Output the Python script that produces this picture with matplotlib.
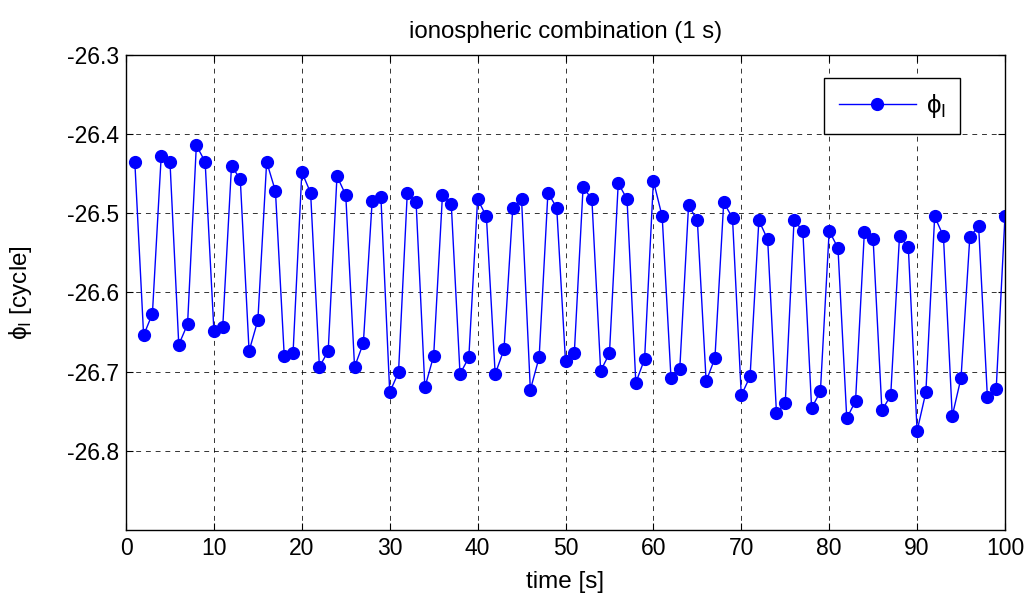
import matplotlib
matplotlib.use("Agg")
import matplotlib.pyplot as plt

time_s = list(range(1, 101))
phi_I = [
    -26.435, -26.654, -26.627, -26.428, -26.435, -26.666, -26.640, -26.414, -26.435, -26.649,
    -26.644, -26.440, -26.457, -26.674, -26.635, -26.435, -26.472, -26.680, -26.677, -26.448,
    -26.474, -26.694, -26.674, -26.453, -26.477, -26.694, -26.664, -26.485, -26.480, -26.726,
    -26.701, -26.474, -26.486, -26.720, -26.680, -26.477, -26.488, -26.703, -26.682, -26.482,
    -26.504, -26.703, -26.672, -26.493, -26.482, -26.723, -26.682, -26.474, -26.493, -26.687,
    -26.677, -26.467, -26.482, -26.699, -26.677, -26.462, -26.482, -26.714, -26.684, -26.459,
    -26.504, -26.708, -26.697, -26.490, -26.509, -26.712, -26.683, -26.486, -26.506, -26.730,
    -26.706, -26.509, -26.533, -26.752, -26.740, -26.509, -26.522, -26.746, -26.725, -26.522,
    -26.544, -26.759, -26.737, -26.524, -26.533, -26.749, -26.730, -26.529, -26.542, -26.775,
    -26.726, -26.504, -26.529, -26.756, -26.708, -26.530, -26.516, -26.732, -26.722, -26.504,
]
xticks = [0, 10, 20, 30, 40, 50, 60, 70, 80, 90, 100]
yticks = [-26.8, -26.7, -26.6, -26.5, -26.4, -26.3]

plt.rcParams['font.family'] = ['Liberation Sans', 'DejaVu Sans']
plt.rcParams['mathtext.fontset'] = 'custom'
plt.rcParams['mathtext.rm'] = 'Liberation Sans'

fig = plt.figure(figsize=(10.28, 5.99), dpi=100)
ax = fig.add_axes([0.1226, 0.1152, 0.9776 - 0.1226, 0.9082 - 0.1152])

ax.plot(time_s, phi_I, color='#0000ff', lw=1.0, marker='o', markersize=8.5,
        markeredgecolor='#0000ff', label='\u03d5$_{\\mathrm{I}}$')

ax.set_xlim(0, 100)
ax.set_ylim(-26.9, -26.3)
ax.set_xticks(xticks)
ax.set_yticks(yticks)
ax.set_yticklabels([f"{v:.1f}" for v in yticks])
ax.grid(True, color='black', linestyle=(0, (5, 5)), linewidth=0.7, alpha=0.8)
ax.tick_params(direction='in', top=True, right=True, labelsize=16.5, length=5, pad=5)
for s in ax.spines.values():
    s.set_linewidth(1.0)

ax.set_title('ionospheric combination (1 s)', fontsize=17.3, pad=12)
ax.set_xlabel('time [s]', fontsize=17.5, labelpad=8)
ax.set_ylabel('\u03d5$_{\\mathrm{I}}$ [cycle]', fontsize=17.5, labelpad=24)

leg = ax.legend(loc='upper right', bbox_to_anchor=(0.9488, 0.9516), borderaxespad=0,
                fontsize=18.5, fancybox=False, framealpha=1, edgecolor='black',
                handlelength=3.0, borderpad=0.55, handletextpad=0.4)
leg.get_frame().set_linewidth(1.0)

fig.savefig('out.png', dpi=100)
